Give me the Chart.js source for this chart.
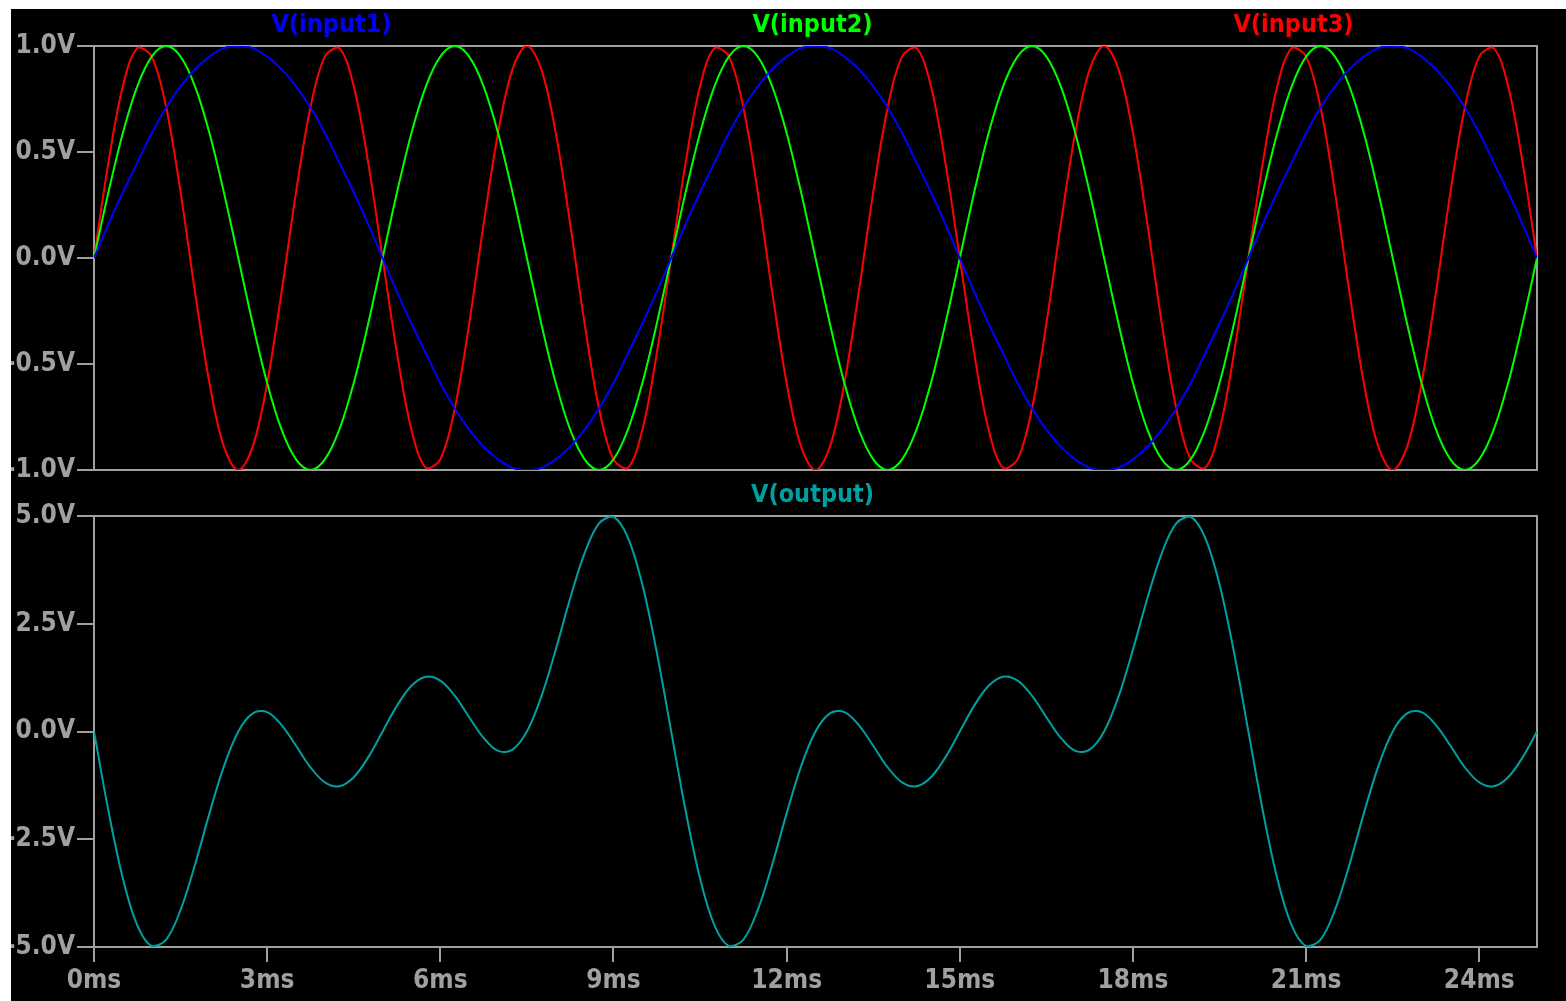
<!DOCTYPE html>
<html>
<head>
<meta charset="utf-8">
<script src="https://cdn.jsdelivr.net/npm/chart.js@4.4.0/dist/chart.umd.min.js"></script>
<style>
  html, body { margin: 0; padding: 0; background: #fff; width: 1566px; height: 1001px; overflow: hidden; }
  #plot { position: absolute; left: 11px; top: 9px; width: 1555px; height: 992px; background: #000; }
  #top { position: absolute; left: 0; top: 0; }
  #bot { position: absolute; left: 0; top: 470px; }
</style>
</head>
<body>
<div id="plot">
  <canvas id="top" width="1555" height="486"></canvas>
  <canvas id="bot" width="1555" height="522"></canvas>
</div>
<script>
// time in ms, sampled every 0.25ms
const times = [0,0.25,0.5,0.75,1,1.25,1.5,1.75,2,2.25,2.5,2.75,3,3.25,3.5,3.75,4,4.25,4.5,4.75,
  5,5.25,5.5,5.75,6,6.25,6.5,6.75,7,7.25,7.5,7.75,8,8.25,8.5,8.75,9,9.25,9.5,9.75,
  10,10.25,10.5,10.75,11,11.25,11.5,11.75,12,12.25,12.5,12.75,13,13.25,13.5,13.75,14,14.25,14.5,14.75,
  15,15.25,15.5,15.75,16,16.25,16.5,16.75,17,17.25,17.5,17.75,18,18.25,18.5,18.75,19,19.25,19.5,19.75,
  20,20.25,20.5,20.75,21,21.25,21.5,21.75,22,22.25,22.5,22.75,23,23.25,23.5,23.75,24,24.25,24.5,24.75,25];

const input1 = [0,0.16,0.31,0.45,0.59,0.71,0.81,0.89,0.95,0.99,1,0.99,0.95,0.89,0.81,0.71,0.59,0.45,0.31,0.16,
  0,-0.16,-0.31,-0.45,-0.59,-0.71,-0.81,-0.89,-0.95,-0.99,-1,-0.99,-0.95,-0.89,-0.81,-0.71,-0.59,-0.45,-0.31,-0.16,
  0,0.16,0.31,0.45,0.59,0.71,0.81,0.89,0.95,0.99,1,0.99,0.95,0.89,0.81,0.71,0.59,0.45,0.31,0.16,
  0,-0.16,-0.31,-0.45,-0.59,-0.71,-0.81,-0.89,-0.95,-0.99,-1,-0.99,-0.95,-0.89,-0.81,-0.71,-0.59,-0.45,-0.31,-0.16,
  0,0.16,0.31,0.45,0.59,0.71,0.81,0.89,0.95,0.99,1,0.99,0.95,0.89,0.81,0.71,0.59,0.45,0.31,0.16,0];

const input2 = [0,0.31,0.59,0.81,0.95,1,0.95,0.81,0.59,0.31,0,-0.31,-0.59,-0.81,-0.95,-1,-0.95,-0.81,-0.59,-0.31,
  0,0.31,0.59,0.81,0.95,1,0.95,0.81,0.59,0.31,0,-0.31,-0.59,-0.81,-0.95,-1,-0.95,-0.81,-0.59,-0.31,
  0,0.31,0.59,0.81,0.95,1,0.95,0.81,0.59,0.31,0,-0.31,-0.59,-0.81,-0.95,-1,-0.95,-0.81,-0.59,-0.31,
  0,0.31,0.59,0.81,0.95,1,0.95,0.81,0.59,0.31,0,-0.31,-0.59,-0.81,-0.95,-1,-0.95,-0.81,-0.59,-0.31,
  0,0.31,0.59,0.81,0.95,1,0.95,0.81,0.59,0.31,0,-0.31,-0.59,-0.81,-0.95,-1,-0.95,-0.81,-0.59,-0.31,0];

const input3 = [0,0.45,0.81,0.99,0.95,0.71,0.31,-0.16,-0.59,-0.89,-1,-0.89,-0.59,-0.16,0.31,0.71,0.95,0.99,0.81,0.45,
  0,-0.45,-0.81,-0.99,-0.95,-0.71,-0.31,0.16,0.59,0.89,1,0.89,0.59,0.16,-0.31,-0.71,-0.95,-0.99,-0.81,-0.45,
  0,0.45,0.81,0.99,0.95,0.71,0.31,-0.16,-0.59,-0.89,-1,-0.89,-0.59,-0.16,0.31,0.71,0.95,0.99,0.81,0.45,
  0,-0.45,-0.81,-0.99,-0.95,-0.71,-0.31,0.16,0.59,0.89,1,0.89,0.59,0.16,-0.31,-0.71,-0.95,-0.99,-0.81,-0.45,
  0,0.45,0.81,0.99,0.95,0.71,0.31,-0.16,-0.59,-0.89,-1,-0.89,-0.59,-0.16,0.31,0.71,0.95,0.99,0.81,0.45,0];

const output = [0,-1.84,-3.41,-4.5,-4.98,-4.83,-4.14,-3.09,-1.9,-0.81,0,0.42,0.45,0.15,-0.33,-0.83,-1.18,-1.27,-1.06,-0.6,
  0,0.6,1.06,1.27,1.18,0.83,0.33,-0.15,-0.45,-0.42,0,0.81,1.9,3.09,4.14,4.83,4.98,4.5,3.41,1.84,
  0,-1.84,-3.41,-4.5,-4.98,-4.83,-4.14,-3.09,-1.9,-0.81,0,0.42,0.45,0.15,-0.33,-0.83,-1.18,-1.27,-1.06,-0.6,
  0,0.6,1.06,1.27,1.18,0.83,0.33,-0.15,-0.45,-0.42,0,0.81,1.9,3.09,4.14,4.83,4.98,4.5,3.41,1.84,
  0,-1.84,-3.41,-4.5,-4.98,-4.83,-4.14,-3.09,-1.9,-0.81,0,0.42,0.45,0.15,-0.33,-0.83,-1.18,-1.27,-1.06,-0.6,0];

const topNames = ['V(input1)', 'V(input2)', 'V(input3)'];
const topColors = ['#0000ff', '#00ff00', '#ff0000'];
const botName = 'V(output)';
const botColor = '#00a0a0';

const gray = '#a0a0a0';
const tickFont = { family: '"DejaVu Sans Condensed", "DejaVu Sans"', size: 26, weight: 'bold' };

function pts(vals) {
  return times.map((t, i) => ({ x: t, y: vals[i] }));
}

function trace(label, color, vals) {
  return { label: label, data: pts(vals), borderColor: color, borderWidth: 2,
           pointRadius: 0, tension: 0.35, fill: false };
}

// box round the plot, under the traces
const frame = {
  id: 'frame',
  beforeDatasetsDraw(chart) {
    const a = chart.chartArea, ctx = chart.ctx;
    ctx.save();
    ctx.strokeStyle = gray;
    ctx.lineWidth = 2;
    ctx.strokeRect(a.left, a.top, a.width, a.height);
    ctx.restore();
  }
};

// trace names above the plot, spread evenly, in trace colours
const names = {
  id: 'names',
  afterDraw(chart) {
    const a = chart.chartArea, ctx = chart.ctx;
    const sets = chart.data.datasets;
    ctx.save();
    ctx.font = 'bold 25px "DejaVu Sans Condensed", "DejaVu Sans"';
    ctx.textAlign = 'center';
    ctx.textBaseline = 'middle';
    sets.forEach((ds, i) => {
      ctx.fillStyle = ds.borderColor;
      ctx.fillText(ds.label, a.left - 3 + a.width * (2 * i + 1) / (2 * sets.length), a.top - 21);
    });
    ctx.restore();
  }
};

function yAxis(min, max, step) {
  return {
    min: min, max: max,
    afterFit(scale) { scale.width = 83; },
    border: { display: false },
    grid: { drawOnChartArea: false, color: gray, lineWidth: 2, tickLength: 17 },
    ticks: { stepSize: step, color: gray, font: tickFont, padding: 2,
             callback: v => v.toFixed(1) + 'V' }
  };
}

new Chart(document.getElementById('top'), {
  type: 'line',
  data: {
    datasets: [
      trace(topNames[0], topColors[0], input1),
      trace(topNames[1], topColors[1], input2),
      trace(topNames[2], topColors[2], input3)
    ]
  },
  options: {
    responsive: false,
    animation: false,
    devicePixelRatio: 1,
    layout: { padding: { top: 37, right: 29, bottom: 25, left: 0 } },
    plugins: { legend: { display: false }, tooltip: { enabled: false } },
    scales: {
      x: { type: 'linear', min: 0, max: 25, display: false },
      y: yAxis(-1, 1, 0.5)
    }
  },
  plugins: [frame, names]
});

new Chart(document.getElementById('bot'), {
  type: 'line',
  data: { datasets: [trace(botName, botColor, output)] },
  options: {
    responsive: false,
    animation: false,
    devicePixelRatio: 1,
    layout: { padding: { top: 37, right: 29, bottom: 0, left: 0 } },
    plugins: { legend: { display: false }, tooltip: { enabled: false } },
    scales: {
      x: {
        type: 'linear', min: 0, max: 25,
        afterFit(scale) { scale.height = 54; },
        afterBuildTicks(scale) { scale.ticks = scale.ticks.filter(t => t.value % 3 === 0); },
        border: { display: false },
        grid: { drawOnChartArea: false, color: gray, lineWidth: 2, tickLength: 15 },
        ticks: { stepSize: 3, color: gray, font: tickFont, padding: 4, maxRotation: 0,
                 callback: v => v + 'ms' }
      },
      y: yAxis(-5, 5, 2.5)
    }
  },
  plugins: [frame, names]
});
</script>
</body>
</html>
